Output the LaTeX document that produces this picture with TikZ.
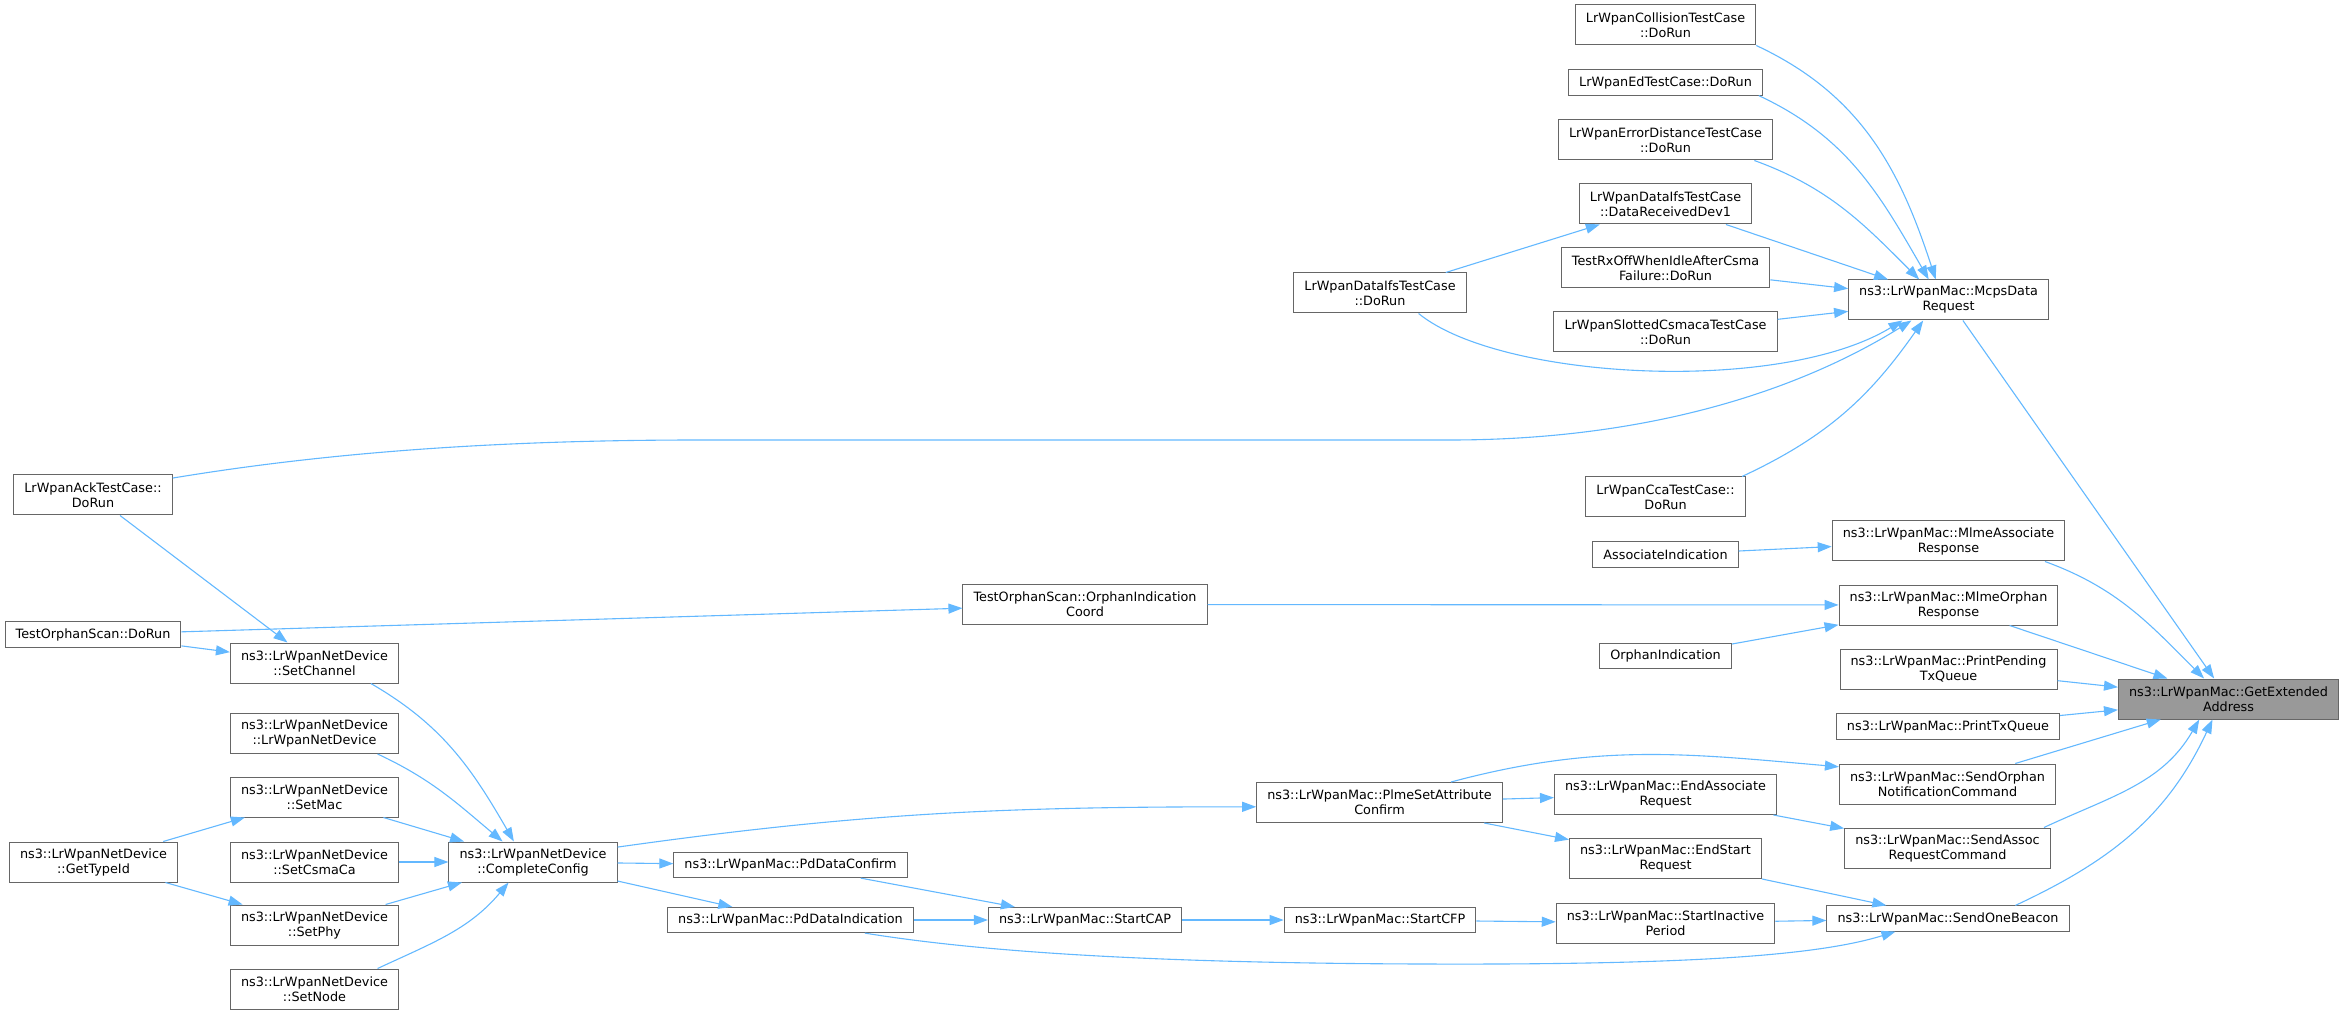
\documentclass[tikz,border=0pt]{standalone}
\usepackage{fontspec}
\setmainfont{DejaVu Sans}
\usetikzlibrary{arrows.meta}
\definecolor{callblue}{HTML}{63B8FF}
\definecolor{boxline}{HTML}{666666}
\definecolor{focusfill}{HTML}{999999}
\tikzset{
  fn/.style={draw=boxline, line width=0.5pt, fill=white, align=center,
    font=\fontsize{6.4}{7.5}\selectfont, inner xsep=5.3pt, inner ysep=1pt,
    minimum height=12.6pt},
  tall/.style={minimum height=20pt},
}
\begin{document}
\begin{tikzpicture}[x=0.5pt,y=-0.5pt]
\useasboundingbox (0,0) rectangle (2344,1015);
\begin{scope}[every node/.style={fn}]
  % callers on the far left
  \node[tall] (ack) at (93,495) {LrWpanAckTestCase::\\DoRun};
  \node (tosrun) at (93,634.5) {TestOrphanScan::DoRun};
  \node[tall] (typeid) at (93.5,862) {ns3::LrWpanNetDevice\\::GetTypeId};
  % net device setters
  \node[tall] (setchannel) at (314.5,663) {ns3::LrWpanNetDevice\\::SetChannel};
  \node[tall] (ctor) at (314.5,733.5) {ns3::LrWpanNetDevice\\::LrWpanNetDevice};
  \node[tall] (setmac) at (314.5,797) {ns3::LrWpanNetDevice\\::SetMac};
  \node[tall] (setcsma) at (314.5,862) {ns3::LrWpanNetDevice\\::SetCsmaCa};
  \node[tall] (setphy) at (314.5,925) {ns3::LrWpanNetDevice\\::SetPhy};
  \node[tall] (setnode) at (314.5,989) {ns3::LrWpanNetDevice\\::SetNode};
  \node[tall] (complete) at (533,862) {ns3::LrWpanNetDevice\\::CompleteConfig};
  \node (pdconf) at (790.5,865) {ns3::LrWpanMac::PdDataConfirm};
  \node (pdind) at (790.5,920) {ns3::LrWpanMac::PdDataIndication};
  \node[tall] (toscoord) at (1085,604.5) {TestOrphanScan::OrphanIndication\\Coord};
  \node (startcap) at (1085,920) {ns3::LrWpanMac::StartCAP};
  \node[tall] (dataifs) at (1380,293) {LrWpanDataIfsTestCase\\::DoRun};
  \node[tall] (plme) at (1379.5,802.5) {ns3::LrWpanMac::PlmeSetAttribute\\Confirm};
  \node (startcfp) at (1380,920) {ns3::LrWpanMac::StartCFP};
  % test cases
  \node[tall] (collision) at (1665.5,25) {LrWpanCollisionTestCase\\::DoRun};
  \node (ed) at (1665.5,82.5) {LrWpanEdTestCase::DoRun};
  \node[tall] (errdist) at (1665.5,140) {LrWpanErrorDistanceTestCase\\::DoRun};
  \node[tall] (datarecv) at (1665.5,204) {LrWpanDataIfsTestCase\\::DataReceivedDev1};
  \node[tall] (rxoff) at (1665.5,268) {TestRxOffWhenIdleAfterCsma\\Failure::DoRun};
  \node[tall] (slotted) at (1665.5,332) {LrWpanSlottedCsmacaTestCase\\::DoRun};
  \node[tall] (cca) at (1665.5,497) {LrWpanCcaTestCase::\\DoRun};
  \node (associnds) at (1665.5,554.5) {AssociateIndication};
  \node (orphaninds) at (1665.5,656) {OrphanIndication};
  \node[tall] (endassoc) at (1665.5,794.5) {ns3::LrWpanMac::EndAssociate\\Request};
  \node[tall] (endstart) at (1665.5,858.5) {ns3::LrWpanMac::EndStart\\Request};
  \node[tall] (startinactive) at (1665.5,923) {ns3::LrWpanMac::StartInactive\\Period};
  % direct callers
  \node[tall] (mcps) at (1948.5,300) {ns3::LrWpanMac::McpsData\\Request};
  \node[tall] (mlmeassoc) at (1948.5,541) {ns3::LrWpanMac::MlmeAssociate\\Response};
  \node[tall] (mlmeorphan) at (1948.5,605) {ns3::LrWpanMac::MlmeOrphan\\Response};
  \node[tall] (printpending) at (1948.5,669) {ns3::LrWpanMac::PrintPending\\TxQueue};
  \node (printtx) at (1948,726.5) {ns3::LrWpanMac::PrintTxQueue};
  \node[tall] (sendorphan) at (1947.5,784) {ns3::LrWpanMac::SendOrphan\\NotificationCommand};
  \node[tall] (sendassoc) at (1947.5,848) {ns3::LrWpanMac::SendAssoc\\RequestCommand};
  \node (sendbeacon) at (1948,918.5) {ns3::LrWpanMac::SendOneBeacon};
  \node[tall, fill=focusfill] (getext) at (2228.5,699) {ns3::LrWpanMac::GetExtended\\Address};
\end{scope}
\begin{scope}[every edge/.style={draw=callblue, line width=0.55pt, -{Triangle[length=7pt,width=5pt]}}]
  \path (collision.south east) edge[out=-25, in=108] (mcps.122);
  \path (ed.-8) edge[out=-25, in=120] (mcps.134);
  \path (errdist.-13) edge[out=-20, in=135] (mcps.145);
  \path (datarecv) edge (mcps);
  \path (rxoff) edge (mcps);
  \path (slotted) edge (mcps);
  \path (dataifs) edge (datarecv);
  \path (dataifs.-28) edge[to path={.. controls (1500,380) and (1780,395) .. (\tikztotarget)}] (mcps.204);
  \path (ack.12) edge[to path={.. controls (330,452) and (500,440) .. (700,440) -- (1450,440) .. controls (1650,440) and (1800,390) .. (\tikztotarget)}] (mcps.209);
  \path (cca.15) edge[out=25, in=235] (mcps.219);
  \path (mcps) edge (getext);
  \path (associnds) edge (mlmeassoc);
  \path (mlmeassoc.-12) edge[out=-20, in=135] (getext.140);
  \path (tosrun) edge (toscoord);
  \path (toscoord) edge (mlmeorphan);
  \path (orphaninds) edge (mlmeorphan);
  \path (mlmeorphan) edge (getext);
  \path (printpending) edge (getext);
  \path (printtx) edge (getext);
  \path (plme.16) edge[out=15, in=175] (sendorphan.171);
  \path (plme) edge (endassoc);
  \path (plme) edge (endstart);
  \path (endassoc) edge (sendassoc);
  \path (sendorphan) edge (getext);
  \path (sendassoc.12) edge[out=25, in=240] (getext.215);
  \path (endstart) edge (sendbeacon);
  \path (startinactive) edge (sendbeacon);
  \path (sendbeacon.11) edge[out=25, in=245] (getext.232);
  \path (ack) edge (setchannel);
  \path (tosrun) edge (setchannel);
  \path (setchannel.-20) edge[out=-30, in=120] (complete.133);
  \path (ctor.-18) edge[out=-25, in=140] (complete.146);
  \path (setmac) edge (complete);
  \path (setcsma) edge (complete);
  \path (setphy) edge (complete);
  \path (setnode.18) edge[out=25, in=230] (complete.220);
  \path (typeid) edge (setmac);
  \path (typeid) edge (setphy);
  \path (complete.10) edge[out=8, in=180] (plme.182);
  \path (complete) edge (pdconf);
  \path (complete) edge (pdind);
  \path (pdconf) edge (startcap);
  \path (pdind) edge (startcap);
  \path (startcap) edge (startcfp);
  \path (startcfp) edge (startinactive);
  \path (pdind.-10) edge[to path={.. controls (1000,955) and (1200,965) .. (1500,964) .. controls (1700,963) and (1820,955) .. (\tikztotarget)}] (sendbeacon.194);
\end{scope}
\end{tikzpicture}
\end{document}
